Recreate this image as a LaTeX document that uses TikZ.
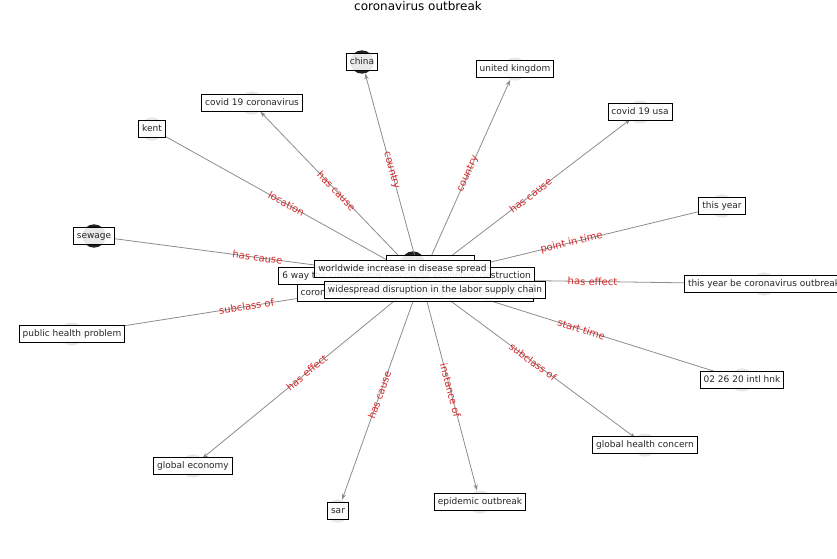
\documentclass[tikz,border=0pt]{standalone}
\usepackage{fontspec}
\setmainfont{DejaVu Sans}
\usetikzlibrary{arrows.meta}
\definecolor{elab}{RGB}{214,39,40}
\definecolor{edgec}{RGB}{140,140,140}
\begin{document}
\begin{tikzpicture}[x=0.75pt,y=-0.75pt,
  edge/.style={draw=edgec, line width=0.6pt},
  arr/.style={edge,-{Stealth[length=4.5pt,width=3.2pt]}},
  elabel/.style={text=elab, font=\fontsize{7.5}{9}\selectfont, inner sep=0pt, sloped, midway},
  lnode/.style={circle, fill=black!9, minimum size=17.5pt, inner sep=0pt},
  dnode/.style={circle, fill=black!88, minimum size=17.5pt, inner sep=0pt},
  lbox/.style={draw=black, line width=0.6pt, fill=white, fill opacity=0.9, text opacity=1,
    text=black!85, font=\fontsize{6.75}{8}\selectfont, inner xsep=2.6pt, inner ysep=3.2pt,
    text height=5.1pt, text depth=1.6pt}
]
\useasboundingbox (0,0) rectangle (837,559);

% centre
\coordinate (c) at (421,279);
\node[dnode] (cdark) at (413,263) {};
\node[lnode] (clight) at (415,290) {};

% outer node circles
\node[dnode] (china) at (362,62) {};
\node[lnode] (uk) at (515,69) {};
\node[lnode] (usa) at (640,112) {};
\node[lnode] (thisyear) at (722,206) {};
\node[lnode] (tybe) at (764,284) {};
\node[lnode] (hnk) at (742,380) {};
\node[lnode] (ghc) at (645,445) {};
\node[lnode] (epi) at (480,502) {};
\node[lnode] (sar) at (338,511) {};
\node[lnode] (gecon) at (193,466) {};
\node[lnode] (php) at (72,334) {};
\node[dnode] (sewage) at (94,236) {};
\node[lnode] (kent) at (152,129) {};
\node[lnode] (cov) at (252,103) {};

% edges
\draw[arr] (c) -- (china);
\draw[arr] (c) -- (uk);
\draw[arr] (c) -- (usa);
\draw[arr] (thisyear) -- (c);
\draw[arr] (tybe) -- (c);
\draw[arr] (hnk) -- (c);
\draw[arr] (c) -- (ghc);
\draw[arr] (c) -- (epi);
\draw[arr] (c) -- (sar);
\draw[arr] (c) -- (gecon);
\draw[arr] (php) -- (c);
\draw[arr] (sewage) -- (c);
\draw[arr] (kent) -- (c);
\draw[arr] (c) -- (cov);

% edge labels
\path (c) -- node[elabel] (l1) {country} (china.center);
\path (c) -- node[elabel] (l2) {country} (uk.center);
\path (c) -- node[elabel] (l3) {has cause} (usa.center);
\path (c) -- node[elabel] (l4) {point in time} (thisyear.center);
\path (c) -- node[elabel] (l5) {has effect} (tybe.center);
\path (c) -- node[elabel] (l6) {start time} (hnk.center);
\path (c) -- node[elabel] (l7) {subclass of} (ghc.center);
\path (c) -- node[elabel] (l8) {instance of} (epi.center);
\path (c) -- node[elabel] (l9) {has cause} (sar.center);
\path (c) -- node[elabel] (l10) {has effect} (gecon.center);
\path (c) -- node[elabel] (l11) {subclass of} (php.center);
\path (c) -- node[elabel] (l12) {has cause} (sewage.center);
\path (c) -- node[elabel] (l13) {location} (kent.center);
\path (c) -- node[elabel] (l14) {has cause} (cov.center);
\node[text=elab, font=\fontsize{7.5}{9}\selectfont, inner sep=0pt, rotate=-62] (l15) at (418,281) {influence};

% outer label boxes
\node[lbox] (bchina) at (china) {china};
\node[lbox] (buk) at (uk) {united kingdom};
\node[lbox] (busa) at (usa) {covid 19 usa};
\node[lbox] (bthisyear) at (thisyear) {this year};
\node[lbox] (btybe) at (tybe) {this year be coronavirus outbreak};
\node[lbox] (bhnk) at (hnk) {02 26 20 intl hnk};
\node[lbox] (bghc) at (ghc) {global health concern};
\node[lbox] (bepi) at (epi) {epidemic outbreak};
\node[lbox] (bsar) at (sar) {sar};
\node[lbox] (bgecon) at (gecon) {global economy};
\node[lbox] (bphp) at (php) {public health problem};
\node[lbox] (bsewage) at (sewage) {sewage};
\node[lbox] (bkent) at (kent) {kent};
\node[lbox] (bcov) at (cov) {covid 19 coronavirus};

% centre label boxes
\node[lbox, minimum width=66pt] (bhidden) at (430.5,264) {};
\node[lbox] (bsix) at (406.5,276) {6 way the coronavirus can cause economic destruction};
\node[lbox] (bcoron) at (415.5,293) {coronavirus outbreak disrupts global supply chains};
\node[lbox] (bworld) at (402.5,269) {worldwide increase in disease spread};
\node[lbox] (bwide) at (435,290) {widespread disruption in the labor supply chain};

% title
\node[font=\fontsize{9}{11}\selectfont, inner sep=0pt] (title) at (418,6) {coronavirus outbreak};
\end{tikzpicture}
\end{document}
